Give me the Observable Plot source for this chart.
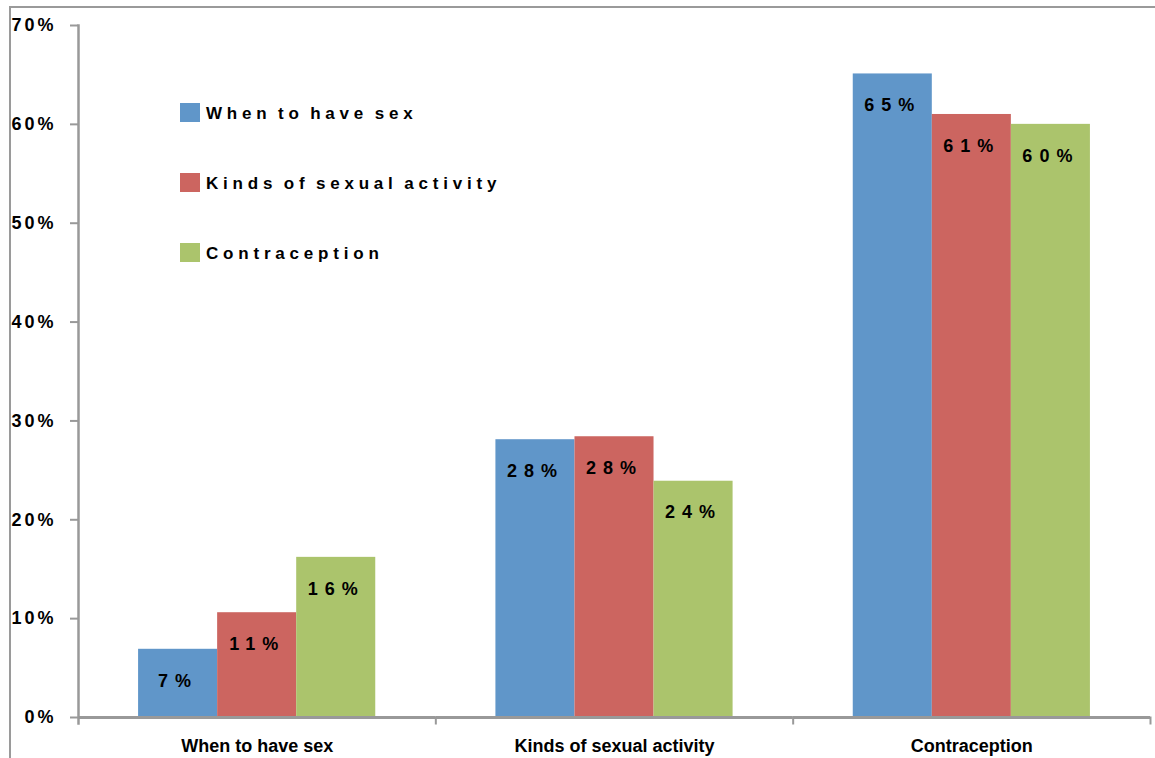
<!DOCTYPE html>
<html>
<head>
<meta charset="utf-8">
<script src="https://cdn.jsdelivr.net/npm/d3@7"></script>
<script src="https://cdn.jsdelivr.net/npm/@observablehq/plot@0.6"></script>
<style>
  body { margin: 0; overflow: hidden; background: #fff; }
  #chart { position: relative; width: 1155px; height: 758px; overflow: hidden; font-family: Arial, "Liberation Sans", sans-serif; }
  #chart svg { position: absolute; left: 0; top: 0; }
  .outer-frame { position: absolute; left: 9px; top: 6px; width: 2000px; height: 2000px;
    border-top: 2px solid #9a9a9a; border-left: 2px solid #9a9a9a; }
  #legend { position: absolute; left: 180px; top: 103px; }
  .legend-item { display: flex; align-items: center; height: 19px; margin-bottom: 51px; }
  .legend-swatch { width: 20px; height: 19px; margin-right: 6px; }
  .legend-text { font-weight: bold; font-size: 17px; letter-spacing: 4.8px; word-spacing: -3px;
    color: #000; white-space: nowrap; position: relative; top: 1px; }
  g[aria-label="text"] text { letter-spacing: 7px; }
  g[aria-label="y-axis tick label"] text { letter-spacing: 3px; }
</style>
</head>
<body>
<div id="chart">
  <div class="outer-frame"></div>
  <div id="legend"></div>
</div>
<script>
// Topics and survey responses (percent)
const categories = ["When to have sex", "Kinds of sexual activity", "Contraception"];
const seriesNames = ["When to have sex", "Kinds of sexual activity", "Contraception"];
const seriesColors = ["#6096C9", "#CC6560", "#ABC46C"];
const whenToHaveSex = [6.9, 28.1, 65.1];
const kindsOfActivity = [10.6, 28.4, 61.0];
const contraception = [16.2, 23.9, 60.0];
const yTicks = [0, 10, 20, 30, 40, 50, 60, 70];

const seriesValues = [whenToHaveSex, kindsOfActivity, contraception];
const rows = categories.flatMap((category, i) =>
  seriesNames.map((series, j) => ({category, series, value: seriesValues[j][i]}))
);

const axisGray = "#999999";

const chart = Plot.plot({
  width: 1155,
  height: 758,
  marginLeft: 78,
  marginRight: 5,
  marginTop: 25,
  marginBottom: 41,
  style: {fontFamily: "Arial, 'Liberation Sans', sans-serif", background: "transparent", color: "#000"},
  fx: {domain: categories, padding: 0, round: false, label: null},
  x: {domain: seriesNames, paddingInner: 0, paddingOuter: 0.76, round: false, axis: null},
  y: {domain: [0, 70], label: null},
  color: {domain: seriesNames, range: seriesColors},
  marks: [
    Plot.barY(rows, {fx: "category", x: "series", y: "value", fill: "series", inset: 0}),
    Plot.text(rows, {
      fx: "category", x: "series", y: "value",
      text: d => `${Math.round(d.value)}%`,
      dy: 31.5, fontSize: 18, fontWeight: "bold", fill: "#000"
    }),
    Plot.ruleY([0], {stroke: axisGray, strokeWidth: 3}),
    Plot.frame({anchor: "left", facetAnchor: "left", stroke: axisGray, strokeWidth: 2.5, insetBottom: -6}),
    Plot.frame({anchor: "right", stroke: axisGray, strokeWidth: 2, insetTop: 692, insetBottom: -6}),
    Plot.axisY({
      ticks: yTicks, tickFormat: d => `${d}%`,
      tickSize: 8, tickPadding: 14, stroke: axisGray, strokeWidth: 2,
      fontSize: 18, fontWeight: "bold", fill: "#000", label: null
    }),
    Plot.axisFx({anchor: "bottom", tickSize: 0, tickPadding: 22, fontSize: 18, fontWeight: "bold", fill: "#000", label: null})
  ]
});

document.getElementById("chart").appendChild(chart);

// Legend
const legend = d3.select("#legend");
seriesNames.forEach((name, i) => {
  const item = legend.append("div").attr("class", "legend-item");
  item.append("div").attr("class", "legend-swatch").style("background", seriesColors[i]);
  item.append("div").attr("class", "legend-text").text(name);
});
</script>
</body>
</html>
